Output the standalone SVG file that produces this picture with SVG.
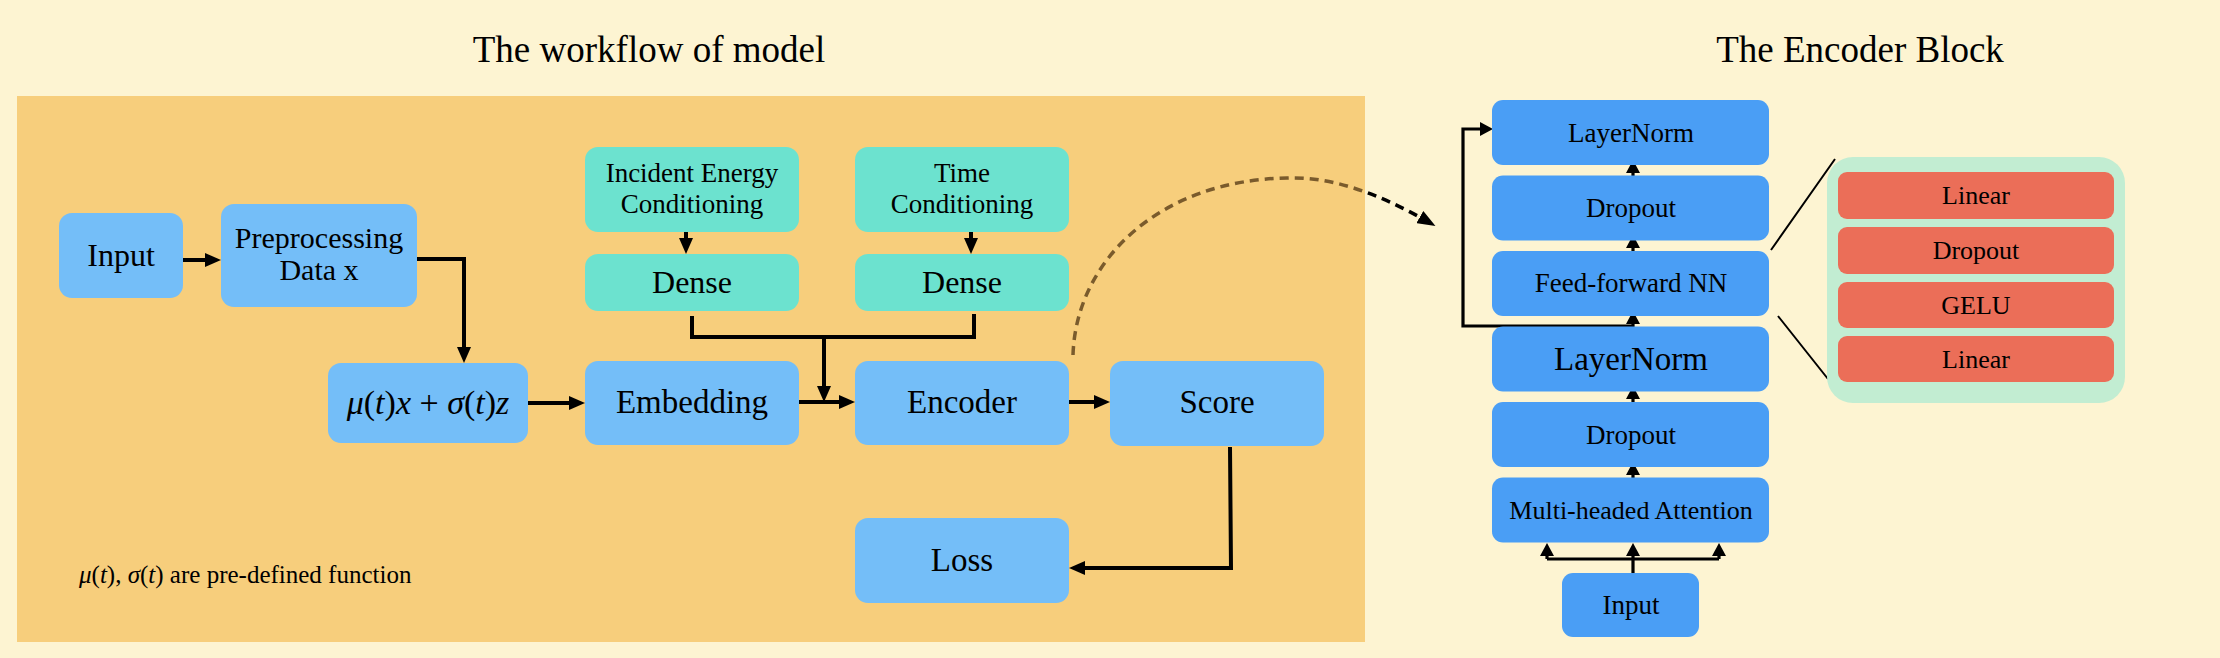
<svg xmlns="http://www.w3.org/2000/svg" width="2220" height="658" viewBox="0 0 2220 658">
<style>
text{font-family:"Liberation Serif","Times New Roman",serif;fill:#000;text-anchor:middle}
.lb{fill:#74BEF8}
.tl{fill:#6CE2CF}
.eb{fill:#4A9EF5}
.rd{fill:#EB6E58}
.ln{fill:none;stroke:#000;stroke-width:4}
.sl{fill:none;stroke:#000;stroke-width:3.2}
.t32{font-size:32px}
.t27{font-size:27px}
.t26{font-size:26px}
.it{font-style:italic}
</style>
<defs>
<marker id="ah" markerUnits="userSpaceOnUse" markerWidth="16" markerHeight="14" refX="10" refY="7" orient="auto"><path d="M0,0 L16,7 L0,14 z" fill="#000"/></marker>
<marker id="as" markerUnits="userSpaceOnUse" markerWidth="13" markerHeight="14" refX="8" refY="7" orient="auto"><path d="M0,0 L13,7 L0,14 z" fill="#000"/></marker>
<marker id="ad" markerUnits="userSpaceOnUse" markerWidth="18" markerHeight="14" refX="14" refY="7" orient="auto"><path d="M0,0 L18,7 L0,14 z" fill="#000"/></marker>
<clipPath id="cin"><rect x="17" y="96" width="1348" height="546"/></clipPath>
<clipPath id="cout"><rect x="1365" y="0" width="855" height="658"/></clipPath>
</defs>
<rect x="0" y="0" width="2220" height="658" fill="#FDF4D2"/>
<rect x="17" y="96" width="1348" height="546" fill="#F7CE7C"/>
<text x="649" y="62" style="font-size:37px">The workflow of model</text>
<text x="1860" y="62" style="font-size:37px">The Encoder Block</text>

<g id="connectors">
<path class="ln" d="M183,260 H215" marker-end="url(#ah)"/>
<path class="ln" d="M417,259 H464 V357" marker-end="url(#ah)"/>
<path class="ln" d="M528,403 H579" marker-end="url(#ah)"/>
<path class="ln" d="M686,230 V248" marker-end="url(#ah)"/>
<path class="ln" d="M971,230 V248" marker-end="url(#ah)"/>
<path class="ln" d="M692,316 V337 H974 V314"/>
<path class="ln" d="M824,337 V396" marker-end="url(#ah)"/>
<path class="ln" d="M799,402 H849" marker-end="url(#ah)"/>
<path class="ln" d="M1069,402 H1104" marker-end="url(#ah)"/>
<path class="ln" d="M1230,447 L1231,568 H1075" marker-end="url(#ah)"/>
<path d="M1073,355 C1076,260 1160,180 1287,178 C1340,176 1390,200 1437,227" fill="none" stroke="#7A5B2C" stroke-width="3.5" stroke-dasharray="9,6" clip-path="url(#cin)"/>
<path d="M1073,355 C1076,260 1160,180 1287,178 C1340,176 1390,200 1432,224" fill="none" stroke="#000" stroke-width="3.5" stroke-dasharray="9,6" clip-path="url(#cout)" marker-end="url(#ad)"/>
<path class="sl" d="M1633,176 V165" marker-end="url(#as)"/>
<path class="sl" d="M1633,252 V240" marker-end="url(#as)"/>
<path class="sl" d="M1633,327 V316" marker-end="url(#as)"/>
<path class="sl" d="M1633,403 V391" marker-end="url(#as)"/>
<path class="sl" d="M1633,478 V467" marker-end="url(#as)"/>
<path class="sl" d="M1633,326 H1463 V129 H1488" marker-end="url(#as)"/>
<path class="sl" d="M1633,573 V559 M1547,559 H1719"/>
<path class="sl" d="M1547,559 V548" marker-end="url(#as)"/>
<path class="sl" d="M1633,559 V548" marker-end="url(#as)"/>
<path class="sl" d="M1719,559 V548" marker-end="url(#as)"/>
<path d="M1771,250 L1835,159 M1778,316 L1828,379" stroke="#000" stroke-width="2" fill="none"/>
</g>

<g id="n-input"><rect class="lb" x="59" y="213" width="124" height="85" rx="13"/><text class="t32" x="121" y="266">Input</text></g>
<g id="n-prep"><rect class="lb" x="221" y="204" width="196" height="103" rx="13"/><text x="319" y="248" style="font-size:30px">Preprocessing</text><text x="319" y="280" style="font-size:30px">Data x</text></g>
<g id="n-mu"><rect class="lb" x="328" y="363" width="200" height="80" rx="13"/><text x="428" y="414" style="font-size:34px"><tspan class="it">μ</tspan>(<tspan class="it">t</tspan>)<tspan class="it">x</tspan> + <tspan class="it">σ</tspan>(<tspan class="it">t</tspan>)<tspan class="it">z</tspan></text></g>
<g id="n-emb"><rect class="lb" x="585" y="361" width="214" height="84" rx="13"/><text x="692" y="413" style="font-size:33px">Embedding</text></g>
<g id="n-enc"><rect class="lb" x="855" y="361" width="214" height="84" rx="13"/><text x="962" y="413" style="font-size:33px">Encoder</text></g>
<g id="n-score"><rect class="lb" x="1110" y="361" width="214" height="85" rx="13"/><text x="1217" y="413" style="font-size:33px">Score</text></g>
<g id="n-loss"><rect class="lb" x="855" y="518" width="214" height="85" rx="13"/><text x="962" y="571" style="font-size:33px">Loss</text></g>
<g id="n-iec"><rect class="tl" x="585" y="147" width="214" height="85" rx="13"/><text class="t27" x="692" y="182">Incident Energy</text><text class="t27" x="692" y="213">Conditioning</text></g>
<g id="n-tc"><rect class="tl" x="855" y="147" width="214" height="85" rx="13"/><text class="t27" x="962" y="182">Time</text><text class="t27" x="962" y="213">Conditioning</text></g>
<g id="n-dense1"><rect class="tl" x="585" y="254" width="214" height="57" rx="13"/><text class="t32" x="692" y="293">Dense</text></g>
<g id="n-dense2"><rect class="tl" x="855" y="254" width="214" height="57" rx="13"/><text class="t32" x="962" y="293">Dense</text></g>
<text x="79" y="583" style="font-size:25px;text-anchor:start"><tspan class="it">μ</tspan>(<tspan class="it">t</tspan>), <tspan class="it">σ</tspan>(<tspan class="it">t</tspan>) are pre-defined function</text>

<g id="e-ln2"><rect class="eb" x="1492" y="100" width="277" height="65" rx="11"/><text class="t27" x="1631" y="142">LayerNorm</text></g>
<g id="e-do2"><rect class="eb" x="1492" y="175.5" width="277" height="65" rx="11"/><text class="t27" x="1631" y="217">Dropout</text></g>
<g id="e-ffnn"><rect class="eb" x="1492" y="251" width="277" height="65" rx="11"/><text class="t27" x="1631" y="292">Feed-forward NN</text></g>
<g id="e-ln1"><rect class="eb" x="1492" y="326.5" width="277" height="65" rx="11"/><text x="1631" y="370" style="font-size:33px">LayerNorm</text></g>
<g id="e-do1"><rect class="eb" x="1492" y="402" width="277" height="65" rx="11"/><text class="t27" x="1631" y="444">Dropout</text></g>
<g id="e-mha"><rect class="eb" x="1492" y="477.5" width="277" height="65" rx="11"/><text class="t26" x="1631" y="519">Multi-headed Attention</text></g>
<g id="e-input"><rect class="eb" x="1562" y="573" width="137" height="64" rx="11"/><text class="t27" x="1631" y="614">Input</text></g>

<g id="ffnn-detail">
<rect x="1827" y="157" width="298" height="246" rx="26" fill="#C2EDD2"/>
<g id="f-lin1"><rect class="rd" x="1838" y="172" width="276" height="47" rx="9"/><text class="t26" x="1976" y="204">Linear</text></g>
<g id="f-drop"><rect class="rd" x="1838" y="227" width="276" height="47" rx="9"/><text class="t26" x="1976" y="259">Dropout</text></g>
<g id="f-gelu"><rect class="rd" x="1838" y="282" width="276" height="46" rx="9"/><text class="t26" x="1976" y="314">GELU</text></g>
<g id="f-lin2"><rect class="rd" x="1838" y="336" width="276" height="46" rx="9"/><text class="t26" x="1976" y="368">Linear</text></g>
</g>
</svg>
